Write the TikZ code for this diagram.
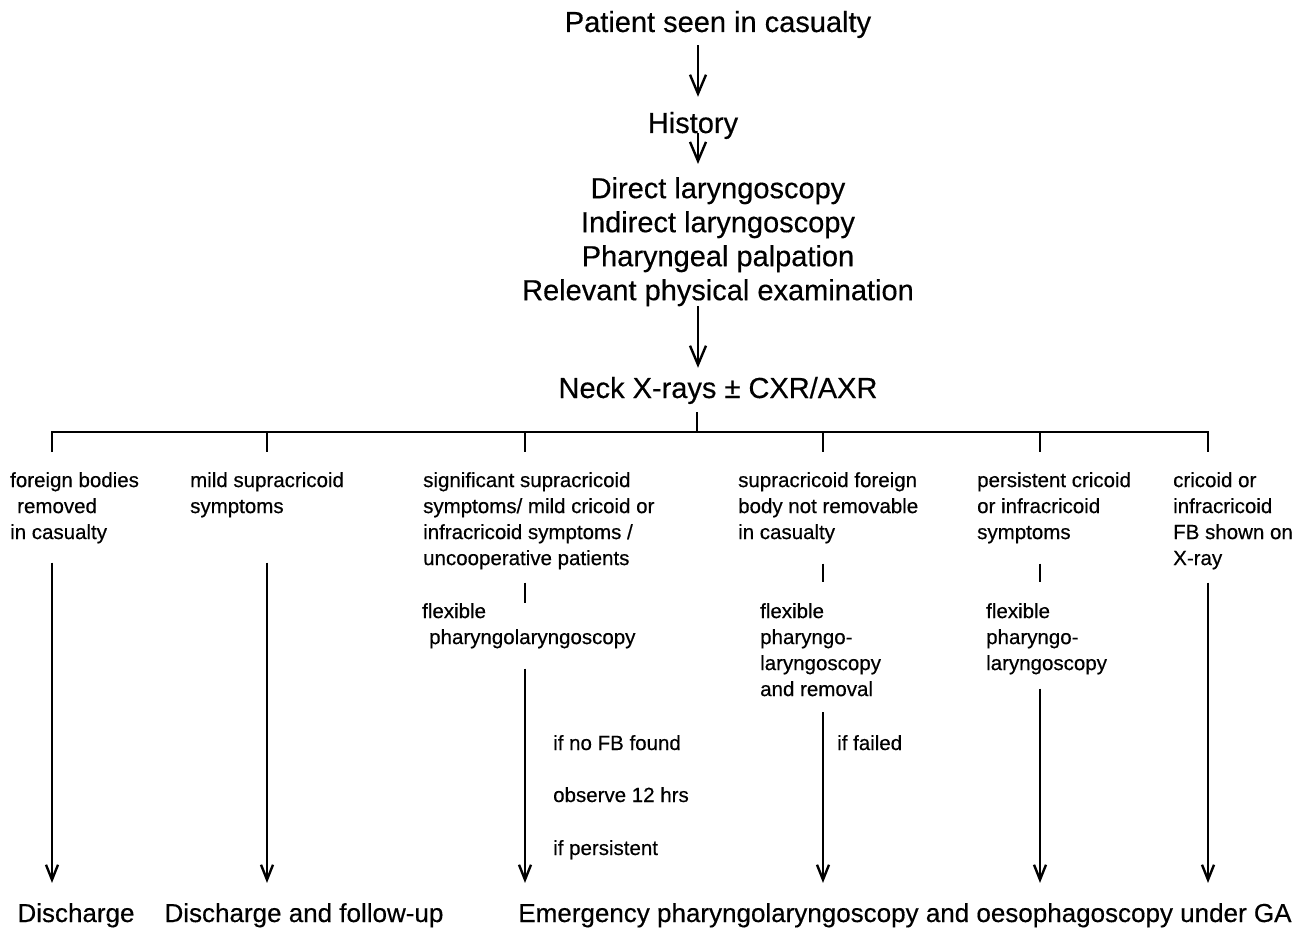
\documentclass[tikz,border=0pt]{standalone}
\usepackage{fontspec}
\setmainfont{Liberation Sans}[FakeBold=0.4]
\usetikzlibrary{arrows.meta,calc}
\begin{document}
\begin{tikzpicture}[x=1pt,y=-1pt,
  big/.style={font=\fontsize{29}{34}\selectfont, inner sep=0pt},
  small/.style={font=\fontsize{20.5}{26}\selectfont, inner sep=0pt, align=left, anchor=north west},
  lab/.style={font=\fontsize{20.5}{26}\selectfont, inner sep=0pt, anchor=base west},
  bottom/.style={font=\fontsize{26}{30}\selectfont, inner sep=0pt, anchor=base},
  line/.style={line width=2.6pt},
  bigarr/.style={line width=2.6pt, -{Straight Barb[length=19pt,width=16pt,line width=2.4pt]}},
  arr/.style={line width=2.8pt, -{Straight Barb[length=15pt,width=12pt,line width=2.4pt]}},
]
\useasboundingbox (0,0) rectangle (1304,928);

% upper chain
\node[big, anchor=base] (pat) at (718,32) {Patient seen in casualty};
\node[big, anchor=base] (hist) at (693,133) {History};
\node[big, align=center, anchor=north] (exam) at (718,177) {Direct laryngoscopy\\Indirect laryngoscopy\\Pharyngeal palpation\\Relevant physical examination};
\node[big, anchor=base] (neck) at (718,398) {Neck X-rays ± CXR/AXR};

\coordinate (ax) at (698,0);
\coordinate (bus) at (697,432);
\draw[bigarr, shorten <=7pt, shorten >=15pt] (pat.south -| ax) -- (hist.north -| ax);
\draw[bigarr, shorten >=13pt] (hist.base -| ax) -- (exam.north -| ax);
\draw[bigarr, shorten >=9pt] (exam.south -| ax) -- (neck.north -| ax);
\draw[line, shorten <=8pt] (neck.south -| bus) -- (bus);

% bus
\coordinate (t1) at (52,432);
\coordinate (t2) at (267,432);
\coordinate (t3) at (525,432);
\coordinate (t4) at (823,432);
\coordinate (t5) at (1040,432);
\coordinate (t6) at (1208,432);
\draw[line] ([yshift=-20pt]t1) -- (t1) -- (t6) -- ([yshift=-20pt]t6);
\foreach \i in {2,...,5} \draw[line] (t\i) -- ([yshift=-20pt]t\i);

% branch labels
\node[small] (fb) at (10,472) {foreign bodies\\\hspace*{7pt}removed\\in casualty};
\node[small] (ms) at (190,472) {mild supracricoid\\symptoms};
\node[small] (sig) at (423,472) {significant supracricoid\\symptoms/ mild cricoid or\\infracricoid symptoms /\\uncooperative patients};
\node[small] (snr) at (738,472) {supracricoid foreign\\body not removable\\in casualty};
\node[small] (pc) at (977,472) {persistent cricoid\\or infracricoid\\symptoms};
\node[small] (cr) at (1173,472) {cricoid or\\infracricoid\\FB shown on\\X-ray};

\node[small] (f3) at (422,603) {flexible\\\hspace*{7pt}pharyngolaryngoscopy};
\node[small] (f4) at (760,603) {flexible\\pharyngo-\\laryngoscopy\\and removal};
\node[small] (f5) at (986,603) {flexible\\pharyngo-\\laryngoscopy};

\node[lab] (nofb) at (553,750) {if no FB found};
\node[lab] (obs) at (553,802) {observe 12 hrs};
\node[lab] (ifp) at (553,855) {if persistent};
\node[lab] (iff) at (837,750) {if failed};

% outcomes
\node[bottom] (dis) at (76,922) {Discharge};
\node[bottom] (disf) at (304,922) {Discharge and follow-up};
\node[bottom] (emg) at (905,922) {Emergency pharyngolaryngoscopy and oesophagoscopy under GA};

% connectors
\draw[arr, shorten <=19pt, shorten >=20pt] (fb.south -| t1) -- (dis.north -| t1);
\draw[arr, shorten <=45pt, shorten >=20pt] (ms.south -| t2) -- (disf.north -| t2);

\draw[line, shorten <=13pt] (sig.south -| t3) -- (f3.north -| t3);
\draw[arr, shorten <=20pt, shorten >=20pt] (f3.south -| t3) -- (emg.north -| t3);

\draw[line, shorten <=20pt, shorten >=21pt] (snr.south -| t4) -- (f4.north -| t4);
\draw[arr, shorten <=16pt, shorten >=20pt] (f4.south -| t4) -- (emg.north -| t4);

\draw[line, shorten <=20pt, shorten >=21pt] (pc.south -| t5) -- (f5.north -| t5);
\draw[arr, shorten <=14pt, shorten >=20pt] (f5.south -| t5) -- (emg.north -| t5);

\draw[arr, shorten <=13pt, shorten >=20pt] (cr.south -| t6) -- (emg.north -| t6);
\end{tikzpicture}
\end{document}
